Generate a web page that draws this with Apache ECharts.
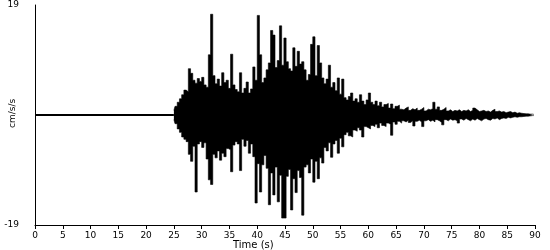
<!DOCTYPE html>
<html>
<head>
<meta charset="utf-8">
<script src="https://cdn.jsdelivr.net/npm/echarts@6/dist/echarts.min.js"></script>
<style>
html,body{margin:0;padding:0;background:#fff;}
#c{width:550px;height:250px;}
</style>
</head>
<body>
<div id="c"></div>
<script>
// ---- data ----
const xTickValues = [0,5,10,15,20,25,30,35,40,45,50,55,60,65,70,75,80,85,90];
const yTickLabels = ['-19','19'];
const yRange = [-19, 19];
const preEventTimes = [0, 25];
const preEventValues = [0, 0];
const onsetTime = 25;      // s
const sampleStep = 0.4;    // s per column of the trace
// positive peaks (cm/s/s), one per step from onset
const peaks = [
 0.8,1.5,2.2,2.8,3.5,4.3,4.0,8.0,7.2,6.0,
 5.5,6.3,5.8,6.5,5.2,4.8,10.4,17.4,6.8,5.4,
 6.2,5.0,7.3,5.6,6.0,4.6,10.5,5.2,4.4,4.0,
 7.3,3.8,4.6,5.7,3.8,4.5,8.3,6.0,17.2,10.4,
 5.6,6.4,7.8,9.0,14.6,13.8,8.2,9.4,15.4,8.6,
 13.3,9.2,8.0,7.6,11.6,8.4,11.0,8.8,9.2,7.8,
 6.0,7.0,12.2,13.5,6.8,12.0,9.0,6.4,5.4,6.2,
 8.6,4.8,5.6,4.2,6.4,3.6,6.2,3.0,2.6,3.2,
 3.8,2.4,2.8,2.2,3.5,2.4,1.8,2.6,3.8,2.2,
 1.8,2.4,1.6,2.2,1.4,1.8,2.0,1.2,1.9,1.1,
 1.5,1.7,1.0,0.9,1.2,1.4,0.8,1.1,0.9,1.2,
 0.8,1.0,1.3,0.7,1.0,0.9,1.1,2.2,1.0,1.4,
 0.8,1.0,1.3,0.7,0.9,0.6,0.8,0.7,0.9,0.6,
 0.8,0.7,0.9,0.6,0.8,1.2,0.9,0.6,0.7,0.8,
 0.6,0.7,0.5,0.8,1.0,0.6,0.7,0.5,0.6,0.4,
 0.5,0.6,0.4,0.5,0.3,0.4,0.3,0.25,0.2,0.2,
 0.15,0.15,0.1
];
// negative troughs (cm/s/s), one per step from onset
const troughs = [
 -0.8,-1.5,-2.4,-3.0,-3.8,-4.2,-4.6,-6.8,-8.0,-5.4,
 -13.3,-5.0,-4.6,-5.6,-4.8,-7.6,-11.2,-12.0,-6.8,-7.4,
 -6.2,-7.8,-6.6,-7.2,-5.8,-6.0,-9.8,-5.2,-4.6,-5.0,
 -9.6,-4.2,-5.4,-4.4,-6.6,-5.0,-7.2,-15.2,-8.4,-13.3,
 -8.6,-7.0,-9.2,-15.5,-10.0,-13.8,-9.0,-15.0,-10.4,-17.8,
 -17.8,-10.6,-9.4,-16.4,-11.0,-13.4,-9.6,-10.8,-17.3,-9.0,
 -8.6,-10.0,-7.6,-11.6,-8.0,-11.0,-7.4,-8.3,-5.6,-6.2,
 -4.8,-7.3,-5.0,-4.4,-6.6,-4.0,-5.5,-3.4,-3.0,-3.6,
 -3.8,-2.6,-2.8,-2.2,-2.6,-3.8,-2.0,-2.2,-2.4,-1.8,
 -2.0,-1.6,-2.2,-1.4,-1.8,-2.0,-1.4,-1.6,-3.5,-1.2,
 -1.6,-1.1,-1.4,-1.0,-1.2,-0.9,-1.3,-1.0,-1.9,-1.1,
 -0.9,-1.2,-2.0,-1.0,-0.8,-1.1,-0.9,-1.2,-0.8,-1.0,
 -1.3,-1.7,-0.8,-1.0,-0.7,-0.9,-0.8,-1.0,-1.4,-0.7,
 -0.9,-0.6,-0.8,-1.0,-0.7,-0.9,-0.6,-0.8,-1.0,-0.7,
 -0.6,-0.8,-0.9,-0.6,-0.7,-0.5,-0.8,-0.6,-0.5,-0.6,
 -0.4,-0.5,-0.4,-0.3,-0.4,-0.3,-0.3,-0.25,-0.2,-0.2,
 -0.15,-0.1,-0.1
];

// ---- build series ----
const preData = preEventTimes.map((t, k) => [t, preEventValues[k]]);
const peakData = peaks.map((v, i) => [onsetTime + i * sampleStep, v]);
const troughData = troughs.map((v, i) => [onsetTime + i * sampleStep, v]);

const FONT = 'DejaVu Sans';
const waveSeries = (data) => ({
  type: 'line', data: data, showSymbol: false, symbol: 'none', step: 'middle',
  sampling: null, clip: true,
  lineStyle: {color: '#000', width: 0.6},
  areaStyle: {color: '#000', opacity: 1, origin: 0}
});
const chart = echarts.init(document.getElementById('c'), null, {renderer: 'canvas'});
chart.setOption({
  animation: false,
  backgroundColor: '#fff',
  grid: {left: 35, right: 15, top: 5, bottom: 25, containLabel: false, outerBoundsMode: 'none'},
  xAxis: {
    type: 'value', min: 0, max: 90, interval: 5,
    axisLine: {onZero: false, lineStyle: {color: '#000', width: 1}},
    axisTick: {show: true, length: 4, lineStyle: {color: '#000'}},
    axisLabel: {color: '#000', fontFamily: FONT, fontSize: 9, margin: 6,
      formatter: v => xTickValues.indexOf(v) >= 0 ? String(v) : ''},
    splitLine: {show: false}
  },
  yAxis: {
    type: 'value', min: yRange[0], max: yRange[1], interval: 19,
    axisLine: {onZero: false, lineStyle: {color: '#000', width: 1}},
    axisTick: {show: false},
    axisLabel: {color: '#000', fontFamily: FONT, fontSize: 9, margin: 16,
      formatter: v => (String(v) === yTickLabels[0] || String(v) === yTickLabels[1]) ? String(v) : ''},
    splitLine: {show: false}
  },
  graphic: [{
    type: 'text', left: 233, top: 240,
    style: {text: 'Time (s)', fill: '#000', font: '10px "DejaVu Sans"'}
  }, {
    type: 'text', x: 8, y: 128, rotation: Math.PI / 2,
    style: {text: 'cm/s/s', fill: '#000', font: '9px "DejaVu Sans"'}
  }],
  series: [
    {type: 'line', data: preData, showSymbol: false, symbol: 'none', lineStyle: {color: '#000', width: 2}},
    waveSeries(peakData),
    waveSeries(troughData)
  ]
});
</script>
</body>
</html>
